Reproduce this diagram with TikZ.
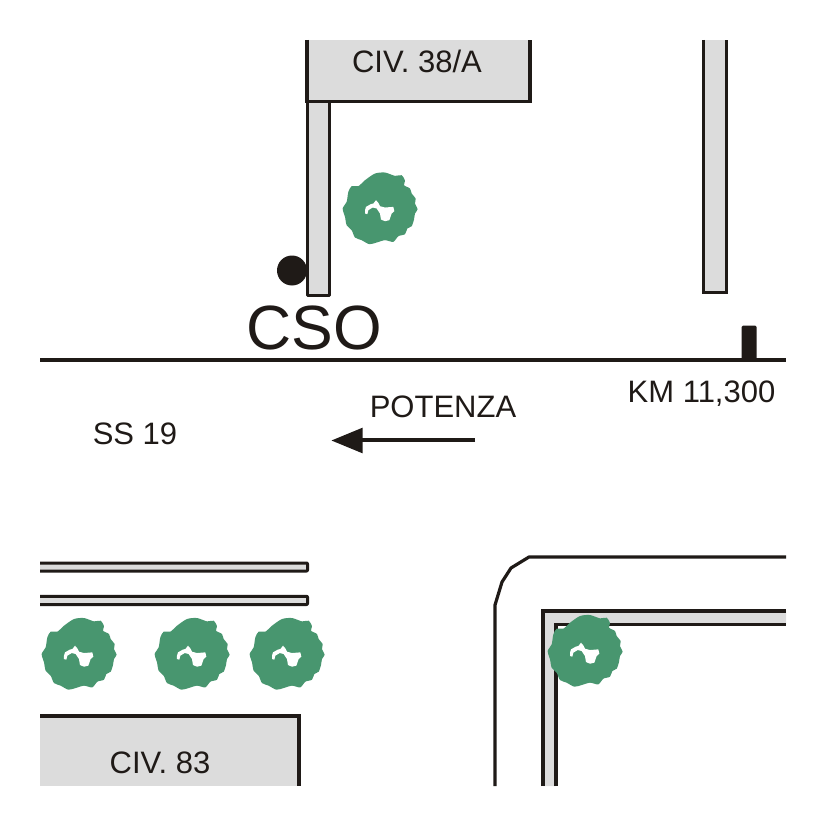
\documentclass[tikz,border=0pt]{standalone}
\usepackage{fontspec}
\setmainfont{Liberation Sans}
\usetikzlibrary{arrows.meta}
\definecolor{wallgray}{HTML}{DCDCDC}
\definecolor{ink}{HTML}{1F1A17}
\definecolor{treegreen}{HTML}{48966F}
\newcommand{\lab}[1]{\fontsize{#1}{#1}\selectfont}
\tikzset{
  outline/.style={draw=ink,line width=3.2pt,line join=miter},
  wall/.style={fill=wallgray,draw=none},
  thinwall/.style={draw=ink,line width=3pt,fill=wallgray,line join=round},
  txt/.style={anchor=base,inner sep=0pt,text=ink},
  tree/.pic={
    \begin{scope}[shift={(-50,-48.3)},x=0.3333pt,y=-0.3333pt]
    \fill[treegreen] plot[smooth cycle,tension=0.45] coordinates {(135,40) (165,37) (195,47) (215,45) (225,62) (222,75) (240,85) (245,100) (257,115) (255,130) (263,147) (255,160) (252,178) (245,198) (232,205) (225,222) (205,228) (190,245) (165,240) (140,247) (118,252) (95,240) (75,232) (65,210) (50,195) (45,170) (38,145) (50,125) (55,95) (65,78) (85,78) (105,60)};
    \fill[white] (105,150) -- (108,140) -- (122,132) -- (130,130) -- (138,120) -- (145,128) -- (150,138) -- (165,142) -- (190,140) -- (193,153) -- (185,160) -- (178,180) -- (165,183) -- (153,178) -- (150,160) -- (140,145) -- (128,142) -- (115,150) -- (112,162) -- (105,160) -- cycle;
    \end{scope}
  }
}
\begin{document}
\begin{tikzpicture}[x=1pt,y=-1pt]
\useasboundingbox (0,0) rectangle (826,826);
% upper building and walls
\draw[thinwall] (307,101) -- (307,295.5) -- (329,295.5) -- (329,101);
\fill[wall] (307,40) rectangle (530,101);
\draw[outline] (307,40) -- (307,101.3) -- (530,101.3) -- (530,40);
\path[wall] (703.5,40) rectangle (726.5,292);
\draw[thinwall,fill=none,line join=miter] (703.5,40) -- (703.5,292) -- (726.5,292) -- (726.5,40);
% road and marker
\coordinate (roadL) at (40,360);
\coordinate (roadR) at (786,360);
\draw[outline] (roadL) -- (roadR);
\fill[ink,rounded corners=1.5pt] (741.5,325.5) rectangle (756.5,361);
\fill[ink] (292,270.5) circle (15);
% lower left
\draw[thinwall,rounded corners=0.8pt] (40,563) -- (307.5,563) -- (307.5,571) -- (40,571);
\draw[thinwall,rounded corners=0.8pt] (40,596.3) -- (307.5,596.3) -- (307.5,604.5) -- (40,604.5);
\fill[wall] (40,716) rectangle (299,786);
\draw[outline] (40,716) -- (299,716) -- (299,786);
% lower right
\draw[outline,line join=round] (495,786) -- (495,605) -- (502,582) -- (511,568) -- (529,557) -- (786,557);
\fill[wall] (543,786) -- (543,611) -- (786,611) -- (786,624.5) -- (556,624.5) -- (556,786) -- cycle;
\draw[outline] (543,786) -- (543,611) -- (786,611);
\draw[outline] (556,786) -- (556,624.5) -- (786,624.5);
% trees
\pic at (380,208.5) {tree};
\pic at (79,654) {tree};
\pic at (192,654) {tree};
\pic at (287,654) {tree};
\pic at (585,651) {tree};
% arrow
\coordinate (arrowS) at (475,440);
\coordinate (arrowE) at (345,440);
\draw[draw=ink,line width=3.2pt] (arrowS) -- (arrowE);
\fill[ink] (331.5,440.5) -- (362.5,427.7) -- (362.5,453.3) -- cycle;
% labels
\node[txt] (civA) at (417,73) {\lab{31}CIV. 38/A};
\node[txt] (cso) at (314,349) {\lab{62.5}CSO};
\node[txt] (km) at (701.5,402) {\lab{31}KM 11,300};
\node[txt] (pot) at (443,417) {\lab{31}POTENZA};
\node[txt] (ss) at (135,444) {\lab{31}SS 19};
\node[txt] (civB) at (160,773) {\lab{31}CIV. 83};
\end{tikzpicture}
\end{document}
